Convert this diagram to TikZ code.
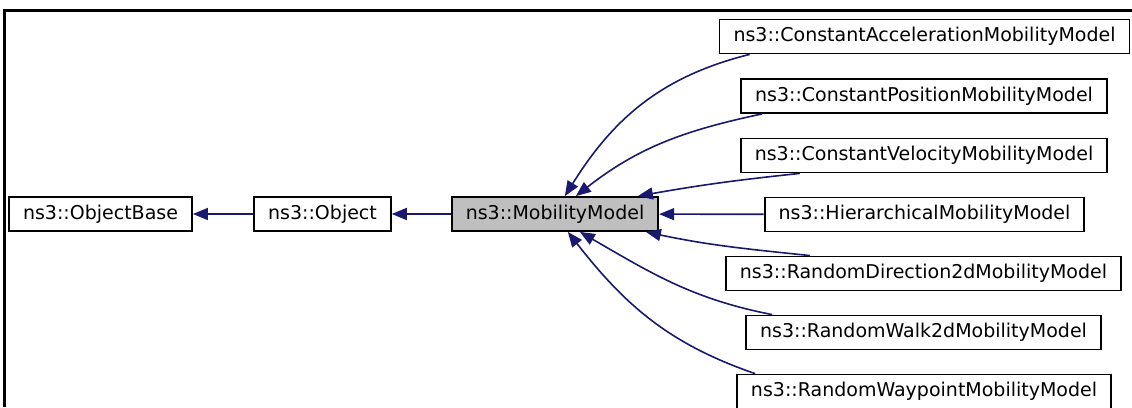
\documentclass[tikz,border=0pt]{standalone}
\usepackage{fontspec}
\setmainfont{DejaVu Sans}
\usetikzlibrary{arrows.meta}
\definecolor{edgeblue}{HTML}{191970}
\definecolor{basegray}{HTML}{BFBFBF}
\begin{document}
\begin{tikzpicture}[x=1pt, y=-1pt, >={Triangle[length=15pt,width=12pt]},
    main node/.style={rectangle, draw, line width=1.8pt, minimum height=34pt, inner xsep=14pt, font=\fontsize{19}{22}\selectfont},
    every edge/.style={draw, edgeblue, line width=1.6pt}]

    \useasboundingbox (0,0) rectangle (1132,407);
    \draw[line width=2.8pt] (4.5,407) -- (4.5,10.5) -- (1132,10.5);

    \node[main node] at (100.5, 214) (ob) {ns3::ObjectBase};
    \node[main node] at (322.5, 214) (o) {ns3::Object};
    \node[main node, fill=basegray] at (555, 214) (mm) {ns3::MobilityModel};
    \node[main node] at (924.5, 36.5) (cacc) {ns3::ConstantAccelerationMobilityModel};
    \node[main node] at (924, 96) (cpos) {ns3::ConstantPositionMobilityModel};
    \node[main node] at (924, 155.5) (cvel) {ns3::ConstantVelocityMobilityModel};
    \node[main node] at (924.5, 214.5) (hier) {ns3::HierarchicalMobilityModel};
    \node[main node] at (923.5, 273.5) (rdir) {ns3::RandomDirection2dMobilityModel};
    \node[main node] at (923.5, 332.5) (rwalk) {ns3::RandomWalk2dMobilityModel};
    \node[main node] at (924, 391.5) (rway) {ns3::RandomWaypointMobilityModel};

    \path[->] (o) edge (ob);
    \path[->] (mm) edge (o);

    \path[->] ([xshift=31pt]cacc.south west) edge[out=194, in=58] ([xshift=114pt]mm.north west);
    \path[->] ([xshift=22pt]cpos.south west) edge[out=192, in=38] ([xshift=125pt]mm.north west);
    \path[->] ([xshift=60pt]cvel.south west) edge[out=186, in=10] ([xshift=187pt]mm.north west);
    \path[->] (hier) edge (mm);
    \path[->] ([xshift=85pt]rdir.north west) edge[out=174, in=-12] ([xshift=195pt]mm.south west);
    \path[->] ([xshift=27pt]rwalk.north west) edge[out=169, in=-30] ([xshift=129pt]mm.south west);
    \path[->] ([xshift=19pt]rway.north west) edge[out=161, in=-52] ([xshift=117pt]mm.south west);
\end{tikzpicture}
\end{document}
